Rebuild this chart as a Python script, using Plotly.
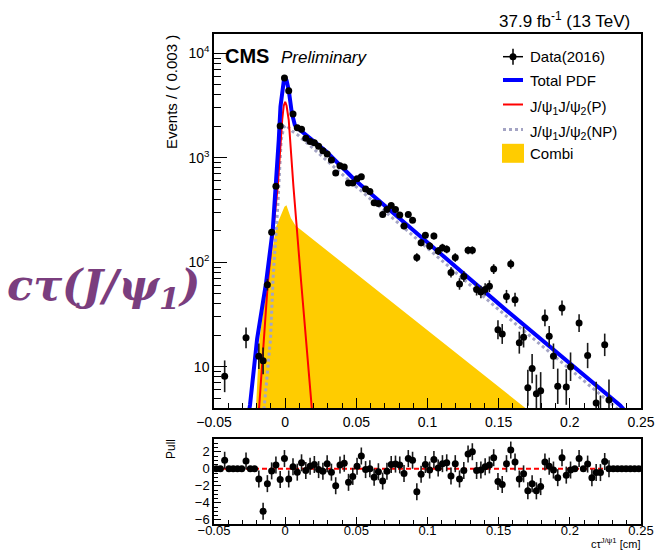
import numpy as np
import plotly.graph_objects as go

W, H = 658, 551
ML, MR, MT, MB = 214, 17, 34, 27

# ---------------- data ----------------
x_range = [-0.05, 0.25]
bin_width = 0.003
counts = [0, 0, 8.1, 0, 0, 0, 0, 18.9, 0, 0,
          12.6, 11.4, 61, 194, 534, 2020, 5800, 4375, 2624, 1944,
          1875, 1541, 1430, 1390, 1290, 1170, 1090, 950, 715, 840,
          815, 574, 574, 630, 660, 504, 477, 371, 365, 287,
          320, 349, 320, 284, 222, 287, 253, 111, 154, 181,
          143, 178, 128, 138, 133, 80, 111, 62, 73, 130,
          130, 55, 52, 55, 59, 86, 22.6, 20.6, 47, 96,
          43.8, 17, 19.2, 6.3, 9.6, 5.5, 5.9, 29.3, 19.6, 12.6,
          6.5, 36.5, 6.4, 10, 0, 26.2, 0, 12.8, 2, 4.5,
          3, 16.2, 4.8, 0, 0, 0, 0, 0, 0, 0]
pulls = [0, 0, 1.0, 0, 0, 0, 0, 0.9, 0, 0,
         -1.2, -5.0, -1.75, -0.25, 0.45, -1.25, 1.2, -1.2, 0.25, -0.4,
         0.7, -0.2, 0.3, 0.5, -0.1, -0.3, 0.6, -0.4, -2.0, 0.45,
         0.65, -1.6, -0.9, 0.3, 1.5, -0.1, 0.0, -1.0, -0.35, -1.45,
         -0.3, 0.5, 0.55, 0.45, -0.55, 1.2, 1.0, -2.7, -0.65, 0.5,
         -0.15, 1.1, 0.1, 0.6, 0.7, -0.85, 0.6, -1.2, -0.2, 1.75,
         2.0, -0.2, -0.15, 0.25, 0.45, 1.3, -1.5, -1.85, 0.6, 2.2,
         0.8, -1.2, -0.6, -2.6, -1.75, -2.6, -2.1, 0.8, 0.3, -0.15,
         -1.05, 1.3, -0.75, -0.15, 0, 1.2, 0, 0.55, -1.05, -0.45,
         -0.45, 0.85, 0, 0, 0, 0, 0, 0, 0, 0]

total_x = [-0.0265, -0.0247, -0.0197, -0.0134, -0.0087, -0.0064, -0.0045, -0.0033,
           -0.002, -0.001, 0.0, 0.001, 0.0025, 0.0047, 0.0068, 0.0089, 0.0289,
           0.0488, 0.1544, 0.2354, 0.245]
total_y = [3.0, 4.3, 18.5, 64, 206, 534, 1484, 3080,
           4300, 5400, 5800, 5500, 4440, 2670, 2060, 1918, 1148,
           617, 35.6, 4.27, 3.0]

prompt_x = [-0.0195, -0.0183, -0.0122, -0.0052, -0.0021, -0.001, 0.0, 0.001,
            0.0025, 0.0058, 0.0113, 0.0185, 0.0195]
prompt_y = [3.0, 4.05, 63, 534, 2300, 3150, 3435, 3150,
            2300, 534, 63, 4.05, 3.0]

nonprompt_x = [-0.0155, -0.0146, -0.0103, -0.0085, -0.0052, -0.0028, -0.001, 0.0007,
               0.0053, 0.0089, 0.0488, 0.1544, 0.2354, 0.24]
nonprompt_y = [3.0, 4.3, 18.5, 70, 344, 1484, 1950, 2050,
               1780, 1656, 545, 31.3, 3.76, 3.0]

combi_x = [-0.0225, -0.0204, -0.0181, -0.0115, -0.0063, -0.0005, 0.0009, 0.004,
           0.0072, 0.1685, 0.175, 0.175, -0.0225]
combi_y = [3.0, 4.3, 18.5, 80, 220, 340, 352, 265,
           225, 4.05, 3.0, 1.0, 1.0]

main_yrange_log = [0.605, 4.185]
pull_yrange = [-6.5, 3.5]
x_tickvals = [-0.05, 0, 0.05, 0.1, 0.15, 0.2, 0.25]
x_ticktext = ["\u22120.05", "0", "0.05", "0.1", "0.15", "0.2", "0.25"]
y_tickvals = [10, 100, 1000, 10000]
y_ticktext = ["10", "10<sup>2</sup>", "10<sup>3</sup>", "10<sup>4</sup>"]
y_minor = [5, 6, 7, 8, 9, 20, 30, 40, 50, 60, 70, 80, 90,
           200, 300, 400, 500, 600, 700, 800, 900,
           2000, 3000, 4000, 5000, 6000, 7000, 8000, 9000]
pull_tickvals = [-6, -4, -2, 0, 2]
pull_ticktext = ["\u22126", "\u22124", "\u22122", "0", "2"]

# ---------------- derived ----------------
counts = np.array(counts, dtype=float)
pulls = np.array(pulls, dtype=float)
centers = x_range[0] + bin_width * (np.arange(len(counts)) + 0.5)
has = counts > 0
root = np.sqrt(counts[has] + 0.25)
err_hi = root + 0.5
err_lo = root - 0.5
pull_err = np.where(has, 1.0, 0.0)

# ---------------- geometry helpers (pixel -> paper) ----------------
PW = W - ML - MR
PH = H - MT - MB
def fx(p):
    return (p - ML) / PW
def fy(p):
    return (H - MB - p) / PH

BLUE = "#0000ff"
RED = "#ff0000"
GREY = "#a4a4c4"
YELLOW = "#ffcc00"
FONT = "Liberation Sans, Arial, sans-serif"

fig = go.Figure()

fig.add_trace(go.Scatter(x=combi_x, y=combi_y, mode="lines", fill="toself",
                         fillcolor=YELLOW, line=dict(width=0, color=YELLOW),
                         xaxis="x", yaxis="y", hoverinfo="skip"))
fig.add_trace(go.Scatter(x=nonprompt_x, y=nonprompt_y, mode="lines",
                         line=dict(color=GREY, width=3, dash="dot"),
                         xaxis="x", yaxis="y"))
fig.add_trace(go.Scatter(x=prompt_x, y=prompt_y, mode="lines",
                         line=dict(color=RED, width=2),
                         xaxis="x", yaxis="y"))
fig.add_trace(go.Scatter(x=total_x, y=total_y, mode="lines",
                         line=dict(color=BLUE, width=4),
                         xaxis="x", yaxis="y"))
fig.add_trace(go.Scatter(x=centers[has], y=counts[has], mode="markers",
                         marker=dict(color="black", size=7),
                         error_y=dict(type="data", symmetric=False, array=err_hi,
                                      arrayminus=err_lo, color="#1a1a1a",
                                      thickness=1.6, width=0),
                         xaxis="x", yaxis="y"))

fig.add_trace(go.Scatter(x=x_range, y=[0, 0], mode="lines",
                         line=dict(color=RED, width=2, dash="5px,3px"),
                         xaxis="x2", yaxis="y2"))
fig.add_trace(go.Scatter(x=centers, y=pulls, mode="markers",
                         marker=dict(color="black", size=7),
                         error_y=dict(type="data", array=pull_err, color="#1a1a1a",
                                      thickness=1.6, width=0),
                         xaxis="x2", yaxis="y2"))

axis_common = dict(showline=True, linecolor="black", linewidth=1.5, mirror=True,
                   showgrid=False, zeroline=False, tickcolor="black",
                   automargin=False,
                   tickfont=dict(family=FONT, size=14, color="black"))
small_font = dict(family=FONT, size=13, color="black")

fig.update_layout(
    template="none",
    width=W, height=H, margin=dict(l=ML, r=MR, t=MT, b=MB, autoexpand=False),
    paper_bgcolor="white", plot_bgcolor="white", showlegend=False,
    font=dict(family=FONT, color="black"),
    xaxis=dict(domain=[0, 1], anchor="y", range=x_range, tickmode="array",
               tickvals=x_tickvals, ticktext=x_ticktext, ticks="inside",
               ticklen=10, tickwidth=1,
               minor=dict(tickmode="linear", tick0=0, dtick=0.01, ticks="inside",
                          ticklen=5, tickcolor="black", tickwidth=1),
               **axis_common),
    yaxis=dict(domain=[fy(408), 1], anchor="x", type="log", range=main_yrange_log,
               tickmode="array", tickvals=y_tickvals, ticktext=y_ticktext,
               ticks="inside", ticklen=13, tickwidth=1,
               minor=dict(tickmode="array", tickvals=y_minor, ticks="inside",
                          ticklen=7, tickcolor="black", tickwidth=1),
               **axis_common),
    xaxis2=dict(domain=[0, 1], anchor="y2", range=x_range, tickmode="array",
                tickvals=x_tickvals, ticktext=x_ticktext, ticks="inside",
                ticklen=7, tickwidth=1, ticklabelstandoff=-6,
                minor=dict(tickmode="linear", tick0=0, dtick=0.01, ticks="inside",
                           ticklen=4, tickcolor="black", tickwidth=1),
                **{**axis_common, "tickfont": small_font}),
    yaxis2=dict(domain=[0, fy(439)], anchor="x2", range=pull_yrange,
                tickmode="array", tickvals=pull_tickvals, ticktext=pull_ticktext,
                ticks="inside", ticklen=7, tickwidth=1,
                minor=dict(tickmode="linear", tick0=0, dtick=0.5, ticks="inside",
                           ticklen=4, tickcolor="black", tickwidth=1),
                **{**axis_common, "tickfont": small_font}),
)

ann = []
def text(x, y, s, size, xanchor="left", yanchor="middle", angle=0, color="black",
         weight="normal", style="normal", family=FONT):
    ann.append(dict(x=fx(x), y=fy(y), xref="paper", yref="paper", text=s,
                    showarrow=False, xanchor=xanchor, yanchor=yanchor,
                    textangle=angle,
                    font=dict(family=family, size=size, color=color,
                              weight=weight, style=style)))

text(632, 20, "37.9 fb<sup>-1</sup> (13 TeV)", 17, xanchor="right")
text(223, 56, "CMS", 20, weight="bold")
text(279, 57, "Preliminary", 17, style="italic")
text(172, 33, "Events / ( 0.003 )", 15, xanchor="center", yanchor="top", angle=-90)
text(171, 437, "Pull", 12, xanchor="center", yanchor="top", angle=-90)
text(642, 543, "c\u03c4<sup>J/\u03c81</sup> [cm]", 11, xanchor="right")
text(5, 288, "c\u03c4(J/\u03c8<sub>1</sub>)", 43, color="#7a3e7e", weight="bold",
     style="italic", family="DejaVu Serif, Liberation Serif, serif")

# legend
leg_x0, leg_x1 = 503, 523
leg_rows = [56.7, 80, 104.5, 129.5, 153.3]
leg_labels = ["Data(2016)", "Total PDF", "J/\u03c8<sub>1</sub>J/\u03c8<sub>2</sub>(P)",
              "J/\u03c8<sub>1</sub>J/\u03c8<sub>2</sub>(NP)", "Combi"]
for yy, lab in zip(leg_rows, leg_labels):
    text(528, yy + (3 if "sub" in lab else 0), lab, 15)
fig.update_layout(annotations=ann)

shapes = []
def seg(x0, y0, x1, y1, color, width, dash="solid"):
    shapes.append(dict(type="line", xref="paper", yref="paper",
                       x0=fx(x0), y0=fy(y0), x1=fx(x1), y1=fy(y1),
                       line=dict(color=color, width=width, dash=dash)))
xm = (leg_x0 + leg_x1) / 2
seg(leg_x0, leg_rows[0], leg_x1, leg_rows[0], "black", 1.5)
seg(xm, leg_rows[0] - 8, xm, leg_rows[0] + 8, "black", 1.5)
shapes.append(dict(type="circle", xref="paper", yref="paper",
                   x0=fx(xm - 3.5), x1=fx(xm + 3.5), y0=fy(leg_rows[0] + 3.5),
                   y1=fy(leg_rows[0] - 3.5), fillcolor="black", line=dict(width=0)))
seg(leg_x0, leg_rows[1], leg_x1, leg_rows[1], BLUE, 4)
seg(leg_x0, leg_rows[2], leg_x1, leg_rows[2], RED, 2)
seg(leg_x0, leg_rows[3], leg_x1, leg_rows[3], GREY, 3, "dot")
shapes.append(dict(type="rect", xref="paper", yref="paper",
                   x0=fx(leg_x0 - 1), x1=fx(leg_x1 + 1), y0=fy(leg_rows[4] + 9.5),
                   y1=fy(leg_rows[4] - 9.5), fillcolor=YELLOW, line=dict(width=0)))
fig.update_layout(shapes=shapes)

fig.write_html("out.html")
